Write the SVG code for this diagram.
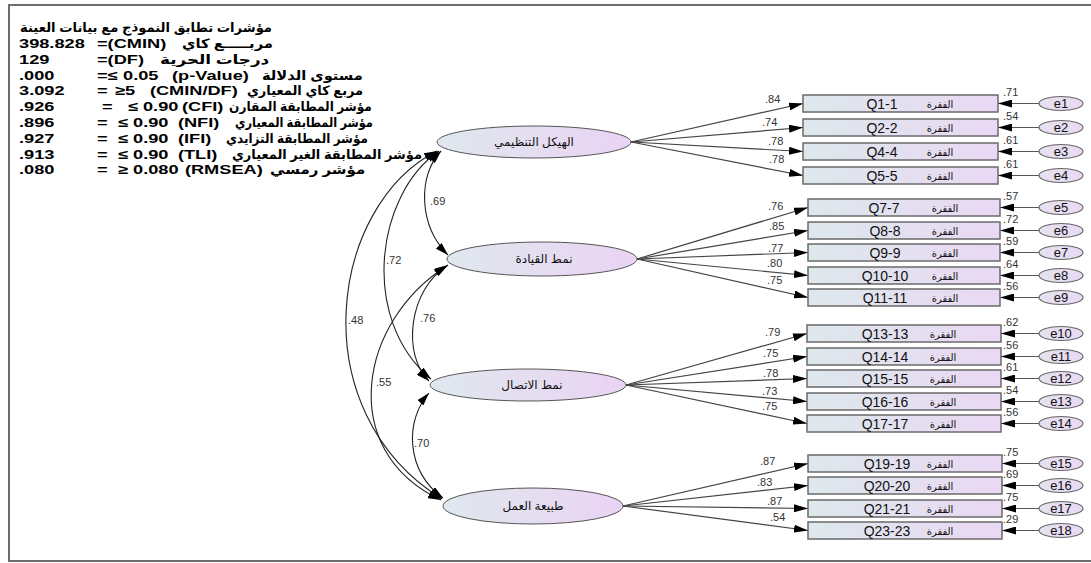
<svg xmlns="http://www.w3.org/2000/svg" width="1091" height="563" viewBox="0 0 1091 563">
<defs>
<linearGradient id="gL" x1="0" y1="0" x2="1" y2="0"><stop offset="0" stop-color="#dfe8ee"/><stop offset="1" stop-color="#ead3f3"/></linearGradient>
<linearGradient id="gB" x1="0" y1="0" x2="1" y2="0"><stop offset="0" stop-color="#dde8ec"/><stop offset="1" stop-color="#ead8f4"/></linearGradient>
<linearGradient id="gE" x1="0" y1="0" x2="1" y2="0"><stop offset="0" stop-color="#e4e2f0"/><stop offset="1" stop-color="#e9d9f3"/></linearGradient>
<marker id="ah" viewBox="0 0 14 8" refX="14" refY="4" markerWidth="14" markerHeight="8" markerUnits="userSpaceOnUse" orient="auto-start-reverse"><path d="M0,0 L14,4 L0,8 z" fill="#000"/></marker>
<marker id="ac" viewBox="0 0 13 8" refX="13" refY="4" markerWidth="13" markerHeight="8" markerUnits="userSpaceOnUse" orient="auto-start-reverse"><path d="M0,0 L13,4 L0,8 z" fill="#000"/></marker>
</defs>
<style>
.blk{font-family:'Liberation Sans','DejaVu Sans',Arial,sans-serif;font-weight:bold;font-size:13px;fill:#000}
.lat{fill:url(#gL);stroke:#555;stroke-width:1}
.box{fill:url(#gB);stroke:#6a6a6a;stroke-width:1.5}
.err{fill:url(#gE);stroke:#666;stroke-width:1.2}
.lt{font-family:'Liberation Sans','DejaVu Sans',sans-serif;font-size:12px;fill:#111;text-anchor:middle}
.q{font-family:'Liberation Sans',Arial,sans-serif;font-size:14px;fill:#111;text-anchor:middle}
.qa{font-family:'Liberation Sans','DejaVu Sans',sans-serif;font-size:10px;fill:#111;text-anchor:middle}
.et{font-family:'Liberation Sans',Arial,sans-serif;font-size:13px;fill:#111;text-anchor:middle}
.n{font-family:'Liberation Sans',Arial,sans-serif;font-size:11px;fill:#333}
.ld{stroke:#444;stroke-width:1.2;fill:none;marker-end:url(#ah)}
.el{stroke:#555;stroke-width:1.2;fill:none;marker-end:url(#ah)}
.cv{stroke:#222;stroke-width:1.1;fill:none;marker-start:url(#ac);marker-end:url(#ac)}
</style>
<rect x="9" y="5" width="1084" height="556" fill="#fff" stroke="#6e6e6e" stroke-width="2"/>

<g id="fit-indices" class="blk" transform="scale(1.4,1)">
<text x="14.3" y="32.5" textLength="180" lengthAdjust="spacingAndGlyphs">مؤشرات تطابق النموذج مع بيانات العينة</text>
<text x="13.6" y="48">398.828</text><text x="69.3" y="48">=(CMIN)</text><text x="130" y="48" textLength="65" lengthAdjust="spacingAndGlyphs">مربـــــع كاي</text>
<text x="13.6" y="63.8">129</text><text x="69.3" y="63.8">=(DF)</text><text x="114.3" y="63.8" textLength="78" lengthAdjust="spacingAndGlyphs">درجات الحرية</text>
<text x="13.6" y="79.6">.000</text><text y="79.6"><tspan x="69.3">=≤</tspan><tspan x="87.9">0.05</tspan><tspan x="122.9">(p-Value)</tspan></text><text x="187.1" y="79.6" textLength="72" lengthAdjust="spacingAndGlyphs">مستوى الدلالة</text>
<text x="13.6" y="95.4">3.092</text><text y="95.4"><tspan x="69.3">=</tspan><tspan x="82.1">≥5</tspan><tspan x="107.1">(CMIN/DF)</tspan></text><text x="176.4" y="95.4" textLength="83" lengthAdjust="spacingAndGlyphs">مربع كاي المعياري</text>
<text x="13.6" y="111.2">.926</text><text y="111.2"><tspan x="72.9">=</tspan><tspan x="91.4">≤ 0.90</tspan><tspan x="130">(CFI)</tspan></text><text x="163.6" y="111.2" textLength="102" lengthAdjust="spacingAndGlyphs">مؤشر المطابقة المقارن</text>
<text x="13.6" y="127">.896</text><text y="127"><tspan x="69.3">=</tspan><tspan x="84.3">≤ 0.90</tspan><tspan x="127.1">(NFI)</tspan></text><text x="167.9" y="127" textLength="98.5" lengthAdjust="spacingAndGlyphs">مؤشر المطابقة المعياري</text>
<text x="13.6" y="142.8">.927</text><text y="142.8"><tspan x="69.3">=</tspan><tspan x="84.3">≤ 0.90</tspan><tspan x="127.1">(IFI)</tspan></text><text x="161.4" y="142.8" textLength="101.4" lengthAdjust="spacingAndGlyphs">مؤشر المطابقة التزايدي</text>
<text x="13.6" y="158.6">.913</text><text y="158.6"><tspan x="69.3">=</tspan><tspan x="84.3">≤ 0.90</tspan><tspan x="127.1">(TLI)</tspan></text><text x="165.7" y="158.6" textLength="135.7" lengthAdjust="spacingAndGlyphs">مؤشر المطابقة الغير المعياري</text>
<text x="13.6" y="174.4">.080</text><text y="174.4"><tspan x="69.3">=</tspan><tspan x="84.3">≥ 0.080</tspan><tspan x="132.1">(RMSEA)</tspan></text><text x="192.9" y="174.4" textLength="68" lengthAdjust="spacingAndGlyphs">مؤشر رمسي</text>
</g>

<g id="connectors">
<path class="cv" d="M441,151 C418,175 418,225 448,255"/>
<path class="cv" d="M439,151 C375,195 360,320 431,379"/>
<path class="cv" d="M437,151 C330,205 300,410 442,499"/>
<path class="cv" d="M448,265 C408,290 402,355 429,381"/>
<path class="cv" d="M447,266 C360,320 335,450 441,500"/>
<path class="cv" d="M429,393 C405,420 405,470 443,498"/>
<path class="ld" d="M631,142 L803,103.5"/>
<path class="ld" d="M631,142 L803,127.5"/>
<path class="ld" d="M631,142 L803,151.5"/>
<path class="ld" d="M631,142 L803,175.5"/>
<path class="ld" d="M637,259 L808,207.5"/>
<path class="ld" d="M637,259 L808,230.5"/>
<path class="ld" d="M637,259 L808,252.5"/>
<path class="ld" d="M637,259 L808,275.5"/>
<path class="ld" d="M637,259 L808,297.5"/>
<path class="ld" d="M626,385 L807,333.5"/>
<path class="ld" d="M626,385 L807,356.5"/>
<path class="ld" d="M626,385 L807,378.5"/>
<path class="ld" d="M626,385 L807,401.5"/>
<path class="ld" d="M626,385 L807,423.5"/>
<path class="ld" d="M623,506 L808,463.5"/>
<path class="ld" d="M623,506 L808,485.5"/>
<path class="ld" d="M623,506 L808,508.5"/>
<path class="ld" d="M623,506 L808,530.5"/>
<path class="el" d="M1039,103.5 H998"/>
<path class="el" d="M1039,127.5 H998"/>
<path class="el" d="M1039,151.5 H998"/>
<path class="el" d="M1039,175.5 H998"/>
<path class="el" d="M1039,207.5 H1000"/>
<path class="el" d="M1039,230.5 H1000"/>
<path class="el" d="M1039,252.5 H1000"/>
<path class="el" d="M1039,275.5 H1000"/>
<path class="el" d="M1039,297.5 H1000"/>
<path class="el" d="M1039,333.5 H1001"/>
<path class="el" d="M1039,356.5 H1001"/>
<path class="el" d="M1039,378.5 H1001"/>
<path class="el" d="M1039,401.5 H1001"/>
<path class="el" d="M1039,423.5 H1001"/>
<path class="el" d="M1039,463.5 H1002"/>
<path class="el" d="M1039,485.5 H1002"/>
<path class="el" d="M1039,508.5 H1002"/>
<path class="el" d="M1039,530.5 H1002"/>
<g class="n">
<text x="430" y="205">.69</text><text x="386" y="264">.72</text><text x="348" y="324">.48</text>
<text x="420" y="322">.76</text><text x="376" y="386">.55</text><text x="414" y="447">.70</text>
<text x="765" y="103">.84</text><text x="762" y="126">.74</text><text x="768" y="145">.78</text><text x="769" y="163">.78</text>
<text x="768" y="210">.76</text><text x="769" y="230">.85</text><text x="768" y="252">.77</text><text x="767" y="267">.80</text><text x="767" y="284">.75</text>
<text x="765" y="336">.79</text><text x="763" y="357">.75</text><text x="763" y="377">.78</text><text x="762" y="395">.73</text><text x="762" y="410">.75</text>
<text x="760" y="465">.87</text><text x="757" y="486">.83</text><text x="767" y="505">.87</text><text x="770" y="521">.54</text>
<text x="1003" y="96">.71</text><text x="1003" y="120">.54</text><text x="1003" y="144">.61</text><text x="1003" y="168">.61</text>
<text x="1003" y="200">.57</text><text x="1003" y="223">.72</text><text x="1003" y="245">.59</text><text x="1003" y="268">.64</text><text x="1003" y="290">.56</text>
<text x="1003" y="326">.62</text><text x="1003" y="349">.56</text><text x="1003" y="371">.61</text><text x="1003" y="394">.54</text><text x="1003" y="416">.56</text>
<text x="1003" y="456">.75</text><text x="1003" y="478">.69</text><text x="1003" y="501">.75</text><text x="1003" y="523">.29</text>
</g>
</g>

<g id="F1"><ellipse class="lat" cx="534" cy="142" rx="97" ry="16"/><text class="lt" x="534" y="146">الهيكل التنظيمي</text></g>
<g id="F2"><ellipse class="lat" cx="542" cy="259" rx="95" ry="17"/><text class="lt" x="544" y="263">نمط القيادة</text></g>
<g id="F3"><ellipse class="lat" cx="528" cy="385" rx="98" ry="16"/><text class="lt" x="532" y="389">نمط الاتصال</text></g>
<g id="F4"><ellipse class="lat" cx="533" cy="506" rx="90" ry="18"/><text class="lt" x="533" y="510">طبيعة العمل</text></g>

<g id="Q1"><rect class="box" x="803" y="95" width="195" height="17"/><text class="q" x="882" y="108.5">Q1-1</text><text class="qa" x="940" y="107.5">الفقرة</text></g>
<g id="Q2"><rect class="box" x="803" y="119" width="195" height="17"/><text class="q" x="882" y="132.5">Q2-2</text><text class="qa" x="940" y="131.5">الفقرة</text></g>
<g id="Q4"><rect class="box" x="803" y="143" width="195" height="17"/><text class="q" x="882" y="156.5">Q4-4</text><text class="qa" x="940" y="155.5">الفقرة</text></g>
<g id="Q5"><rect class="box" x="803" y="167" width="195" height="17"/><text class="q" x="882" y="180.5">Q5-5</text><text class="qa" x="940" y="179.5">الفقرة</text></g>
<g id="Q7"><rect class="box" x="808" y="199" width="192" height="17"/><text class="q" x="884" y="212.5">Q7-7</text><text class="qa" x="945" y="211.5">الفقرة</text></g>
<g id="Q8"><rect class="box" x="808" y="222" width="192" height="17"/><text class="q" x="885" y="235.5">Q8-8</text><text class="qa" x="945" y="234.5">الفقرة</text></g>
<g id="Q9"><rect class="box" x="808" y="244" width="192" height="17"/><text class="q" x="885" y="257.5">Q9-9</text><text class="qa" x="945" y="256.5">الفقرة</text></g>
<g id="Q10"><rect class="box" x="808" y="267" width="192" height="17"/><text class="q" x="885" y="280.5">Q10-10</text><text class="qa" x="945" y="279.5">الفقرة</text></g>
<g id="Q11"><rect class="box" x="808" y="289" width="192" height="17"/><text class="q" x="885" y="302.5">Q11-11</text><text class="qa" x="945" y="301.5">الفقرة</text></g>
<g id="Q13"><rect class="box" x="807" y="325" width="194" height="17"/><text class="q" x="885" y="338.5">Q13-13</text><text class="qa" x="943" y="337.5">الفقرة</text></g>
<g id="Q14"><rect class="box" x="807" y="348" width="194" height="17"/><text class="q" x="885" y="361.5">Q14-14</text><text class="qa" x="943" y="360.5">الفقرة</text></g>
<g id="Q15"><rect class="box" x="807" y="370" width="194" height="17"/><text class="q" x="885" y="383.5">Q15-15</text><text class="qa" x="943" y="382.5">الفقرة</text></g>
<g id="Q16"><rect class="box" x="807" y="393" width="194" height="17"/><text class="q" x="885" y="406.5">Q16-16</text><text class="qa" x="943" y="405.5">الفقرة</text></g>
<g id="Q17"><rect class="box" x="807" y="415" width="194" height="17"/><text class="q" x="885" y="428.5">Q17-17</text><text class="qa" x="943" y="427.5">الفقرة</text></g>
<g id="Q19"><rect class="box" x="808" y="455" width="194" height="17"/><text class="q" x="887" y="468.5">Q19-19</text><text class="qa" x="940" y="467.5">الفقرة</text></g>
<g id="Q20"><rect class="box" x="808" y="477" width="194" height="17"/><text class="q" x="887" y="490.5">Q20-20</text><text class="qa" x="940" y="489.5">الفقرة</text></g>
<g id="Q21"><rect class="box" x="808" y="500" width="194" height="17"/><text class="q" x="887" y="513.5">Q21-21</text><text class="qa" x="940" y="512.5">الفقرة</text></g>
<g id="Q23"><rect class="box" x="808" y="522" width="194" height="17"/><text class="q" x="887" y="535.5">Q23-23</text><text class="qa" x="940" y="534.5">الفقرة</text></g>

<g id="e1"><ellipse class="err" cx="1061" cy="103.5" rx="22" ry="7"/><text class="et" x="1061" y="108">e1</text></g>
<g id="e2"><ellipse class="err" cx="1061" cy="127.5" rx="22" ry="7"/><text class="et" x="1061" y="132">e2</text></g>
<g id="e3"><ellipse class="err" cx="1061" cy="151.5" rx="22" ry="7"/><text class="et" x="1061" y="156">e3</text></g>
<g id="e4"><ellipse class="err" cx="1061" cy="175.5" rx="22" ry="7"/><text class="et" x="1061" y="180">e4</text></g>
<g id="e5"><ellipse class="err" cx="1061" cy="207.5" rx="22" ry="7"/><text class="et" x="1061" y="212">e5</text></g>
<g id="e6"><ellipse class="err" cx="1061" cy="230.5" rx="22" ry="7"/><text class="et" x="1061" y="235">e6</text></g>
<g id="e7"><ellipse class="err" cx="1061" cy="252.5" rx="22" ry="7"/><text class="et" x="1061" y="257">e7</text></g>
<g id="e8"><ellipse class="err" cx="1061" cy="275.5" rx="22" ry="7"/><text class="et" x="1061" y="280">e8</text></g>
<g id="e9"><ellipse class="err" cx="1061" cy="297.5" rx="22" ry="7"/><text class="et" x="1061" y="302">e9</text></g>
<g id="e10"><ellipse class="err" cx="1061" cy="333.5" rx="22" ry="7"/><text class="et" x="1061" y="338">e10</text></g>
<g id="e11"><ellipse class="err" cx="1061" cy="356.5" rx="22" ry="7"/><text class="et" x="1061" y="361">e11</text></g>
<g id="e12"><ellipse class="err" cx="1061" cy="378.5" rx="22" ry="7"/><text class="et" x="1061" y="383">e12</text></g>
<g id="e13"><ellipse class="err" cx="1061" cy="401.5" rx="22" ry="7"/><text class="et" x="1061" y="406">e13</text></g>
<g id="e14"><ellipse class="err" cx="1061" cy="423.5" rx="22" ry="7"/><text class="et" x="1061" y="428">e14</text></g>
<g id="e15"><ellipse class="err" cx="1061" cy="463.5" rx="22" ry="7"/><text class="et" x="1061" y="468">e15</text></g>
<g id="e16"><ellipse class="err" cx="1061" cy="485.5" rx="22" ry="7"/><text class="et" x="1061" y="490">e16</text></g>
<g id="e17"><ellipse class="err" cx="1061" cy="508.5" rx="22" ry="7"/><text class="et" x="1061" y="513">e17</text></g>
<g id="e18"><ellipse class="err" cx="1061" cy="530.5" rx="22" ry="7"/><text class="et" x="1061" y="535">e18</text></g>
</svg>
